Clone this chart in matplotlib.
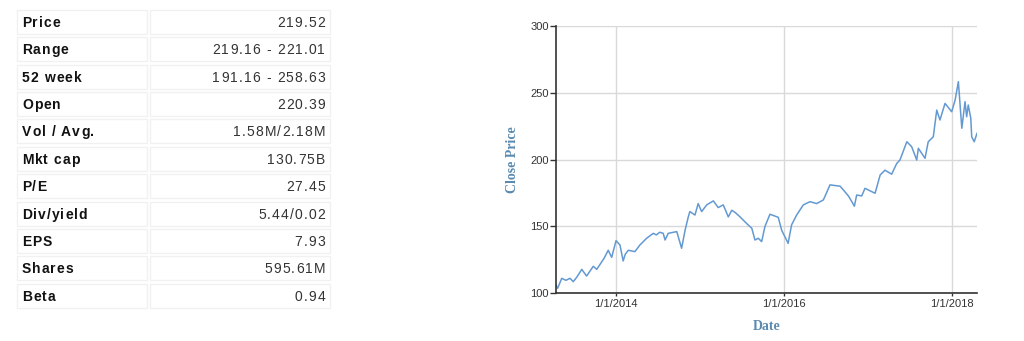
import matplotlib
matplotlib.use("Agg")
import matplotlib.pyplot as plt
import matplotlib.patches as mpatches
from matplotlib import font_manager
from matplotlib.ft2font import FT2Font
import pandas as pd

# ---------------- data ----------------
table_labels = ["Price", "Range", "52 week", "Open", "Vol / Avg.", "Mkt cap",
                "P/E", "Div/yield", "EPS", "Shares", "Beta"]
table_values = ["219.52", "219.16 - 221.01", "191.16 - 258.63", "220.39",
                "1.58M/2.18M", "130.75B", "27.45", "5.44/0.02", "7.93",
                "595.61M", "0.94"]

dates = ["2013-04-15", "2013-04-22", "2013-05-10", "2013-05-28", "2013-06-15",
         "2013-06-29", "2013-07-15", "2013-08-05",
         "2013-08-26", "2013-09-24", "2013-10-09", "2013-11-10", "2013-11-28",
         "2013-12-13",
         "2014-01-01", "2014-01-18", "2014-02-01", "2014-02-10", "2014-02-23",
         "2014-03-24",
         "2014-04-15", "2014-05-14", "2014-06-12", "2014-06-25", "2014-07-10",
         "2014-07-25", "2014-08-02",
         "2014-08-16", "2014-09-22", "2014-10-13", "2014-10-28", "2014-11-11",
         "2014-11-18", "2014-12-10", "2014-12-24", "2015-01-08", "2015-01-30",
         "2015-02-28", "2015-03-21", "2015-04-12", "2015-05-04", "2015-05-19",
         "2015-06-05", "2015-06-24", "2015-07-23", "2015-08-14", "2015-08-28",
         "2015-09-11",
         "2015-09-26", "2015-10-10", "2015-11-01", "2015-12-07", "2015-12-22",
         "2016-01-19", "2016-02-03", "2016-02-25", "2016-03-25", "2016-04-23",
         "2016-05-22", "2016-06-06", "2016-06-20", "2016-06-28", "2016-07-19",
         "2016-09-01", "2016-09-16", "2016-10-07", "2016-10-22", "2016-11-02",
         "2016-11-12", "2016-12-04", "2016-12-18", "2017-01-31", "2017-02-22",
         "2017-03-15", "2017-04-13", "2017-05-05", "2017-05-19", "2017-06-18",
         "2017-07-09", "2017-07-31", "2017-08-07", "2017-09-05", "2017-09-19",
         "2017-10-11", "2017-10-26", "2017-11-09", "2017-12-01", "2017-12-30",
         "2018-01-14", "2018-01-28", "2018-02-12", "2018-02-26", "2018-03-05",
         "2018-03-12", "2018-03-23", "2018-03-27", "2018-04-07", "2018-04-19"]
close = [106.0, 103.5, 111.0, 109.5, 111.0,
         108.5, 112.0, 117.7,
         112.7, 120.0, 117.7, 126.0, 132.0,
         126.7,
         139.2, 136.0, 124.0, 129.0, 132.0,
         131.0,
         136.0, 141.0, 144.7, 143.5, 145.5,
         144.7, 139.7,
         144.7, 146.0, 133.5, 147.0, 157.0,
         161.0, 158.4, 167.0, 161.0, 166.0,
         169.0, 164.0, 166.0, 157.0, 162.0,
         160.0, 157.0, 152.0, 148.5, 139.7,
         141.0,
         138.5, 149.7, 159.0, 156.7, 147.0,
         137.2, 151.0, 158.4, 166.0, 168.4,
         167.0, 168.4, 169.7, 172.7, 181.0,
         180.0, 177.0, 172.7, 168.4, 165.0,
         173.4, 172.7, 178.4, 174.7, 188.4,
         192.0, 189.0, 197.0, 199.6, 213.3,
         209.6, 199.6, 208.4, 200.9, 213.3,
         217.0, 237.0, 229.6, 242.0, 235.8,
         244.6, 258.3, 223.4, 243.3, 232.0,
         240.8, 230.9, 217.0, 213.3, 219.6]

y_ticks = [100, 150, 200, 250, 300]
x_tick_dates = ["2014-01-01", "2016-01-01", "2018-01-01"]
x_tick_labels = ["1/1/2014", "1/1/2016", "1/1/2018"]

# ---------------- figure ----------------
W, H, DPI = 1024, 341, 100
fig = plt.figure(figsize=(W / DPI, H / DPI), dpi=DPI)
fig.patch.set_facecolor("white")

# table overlay axes in pixel units
tax = fig.add_axes([0, 0, 1, 1])
tax.set_xlim(0, W)
tax.set_ylim(H, 0)
tax.axis("off")

label_fp = font_manager.FontProperties(family="Liberation Sans", weight="bold", size=10)
value_fp = font_manager.FontProperties(family="Liberation Sans", weight="normal", size=10)


def advances(s, fp):
    f = FT2Font(font_manager.findfont(fp))
    f.set_size(fp.get_size_in_points(), DPI)
    out = []
    for c in s:
        g = f.load_char(ord(c))
        out.append(g.linearHoriAdvance / 65536.0)
    return out


def spaced_text(ax, x, y, s, fp, color, spacing=1.1, align="left"):
    adv = advances(s, fp)
    total = sum(adv) + spacing * (len(s) - 1)
    pen = x if align == "left" else x - total
    for c, a in zip(s, adv):
        if c != " ":
            ax.text(pen, y, c, fontproperties=fp, color=color,
                    ha="left", va="baseline")
        pen += a + spacing


pitch = 27.4
for i, (lab, val) in enumerate(zip(table_labels, table_values)):
    top = 9.8 + pitch * i
    tax.add_patch(mpatches.Rectangle((17, top), 130, 24, facecolor="white",
                                     edgecolor="#f1f1f1", lw=1))
    tax.add_patch(mpatches.Rectangle((150, top), 180, 24, facecolor="white",
                                     edgecolor="#f1f1f1", lw=1))
    base = top + 12 + 5.0
    spaced_text(tax, 22, base, lab, label_fp, "#111111", spacing=1.0)
    spaced_text(tax, 325, base, val, value_fp, "#333333", spacing=1.1, align="right")

# ---------------- line chart ----------------
ax = fig.add_axes([556 / W, 1 - 293 / H, 421 / W, 267 / H])
d = pd.to_datetime(dates)
ax.plot(d, close, color="#6399d2", lw=1.1)
ax.set_xlim(d.min(), d.max())
ax.set_ylim(100, 300)
ax.set_yticks(y_ticks)
ax.set_xticks(pd.to_datetime(x_tick_dates))
ax.set_xticklabels(x_tick_labels)
ax.grid(True, color="#d9d9d9", lw=1)
ax.set_axisbelow(True)
for s in ["top", "right"]:
    ax.spines[s].set_visible(False)
for s in ["left", "bottom"]:
    ax.spines[s].set_color("#333333")
    ax.spines[s].set_linewidth(1.2)
ax.tick_params(axis="y", length=4, width=1, color="#333333", pad=1,
               labelsize=8, labelcolor="#333333")
ax.tick_params(axis="x", length=2.5, width=1, color="#333333", pad=2,
               labelsize=8, labelcolor="#333333")
for lbl in ax.get_xticklabels() + ax.get_yticklabels():
    lbl.set_family("Liberation Sans")

ax.set_ylabel("Close Price", family="Liberation Serif", weight="bold",
              size=10, color="#5a8ab0", labelpad=8)
ax.set_xlabel("Date", family="Liberation Serif", weight="bold",
              size=10, color="#5a8ab0", labelpad=8)

fig.savefig("out.png", dpi=DPI, facecolor="white")
